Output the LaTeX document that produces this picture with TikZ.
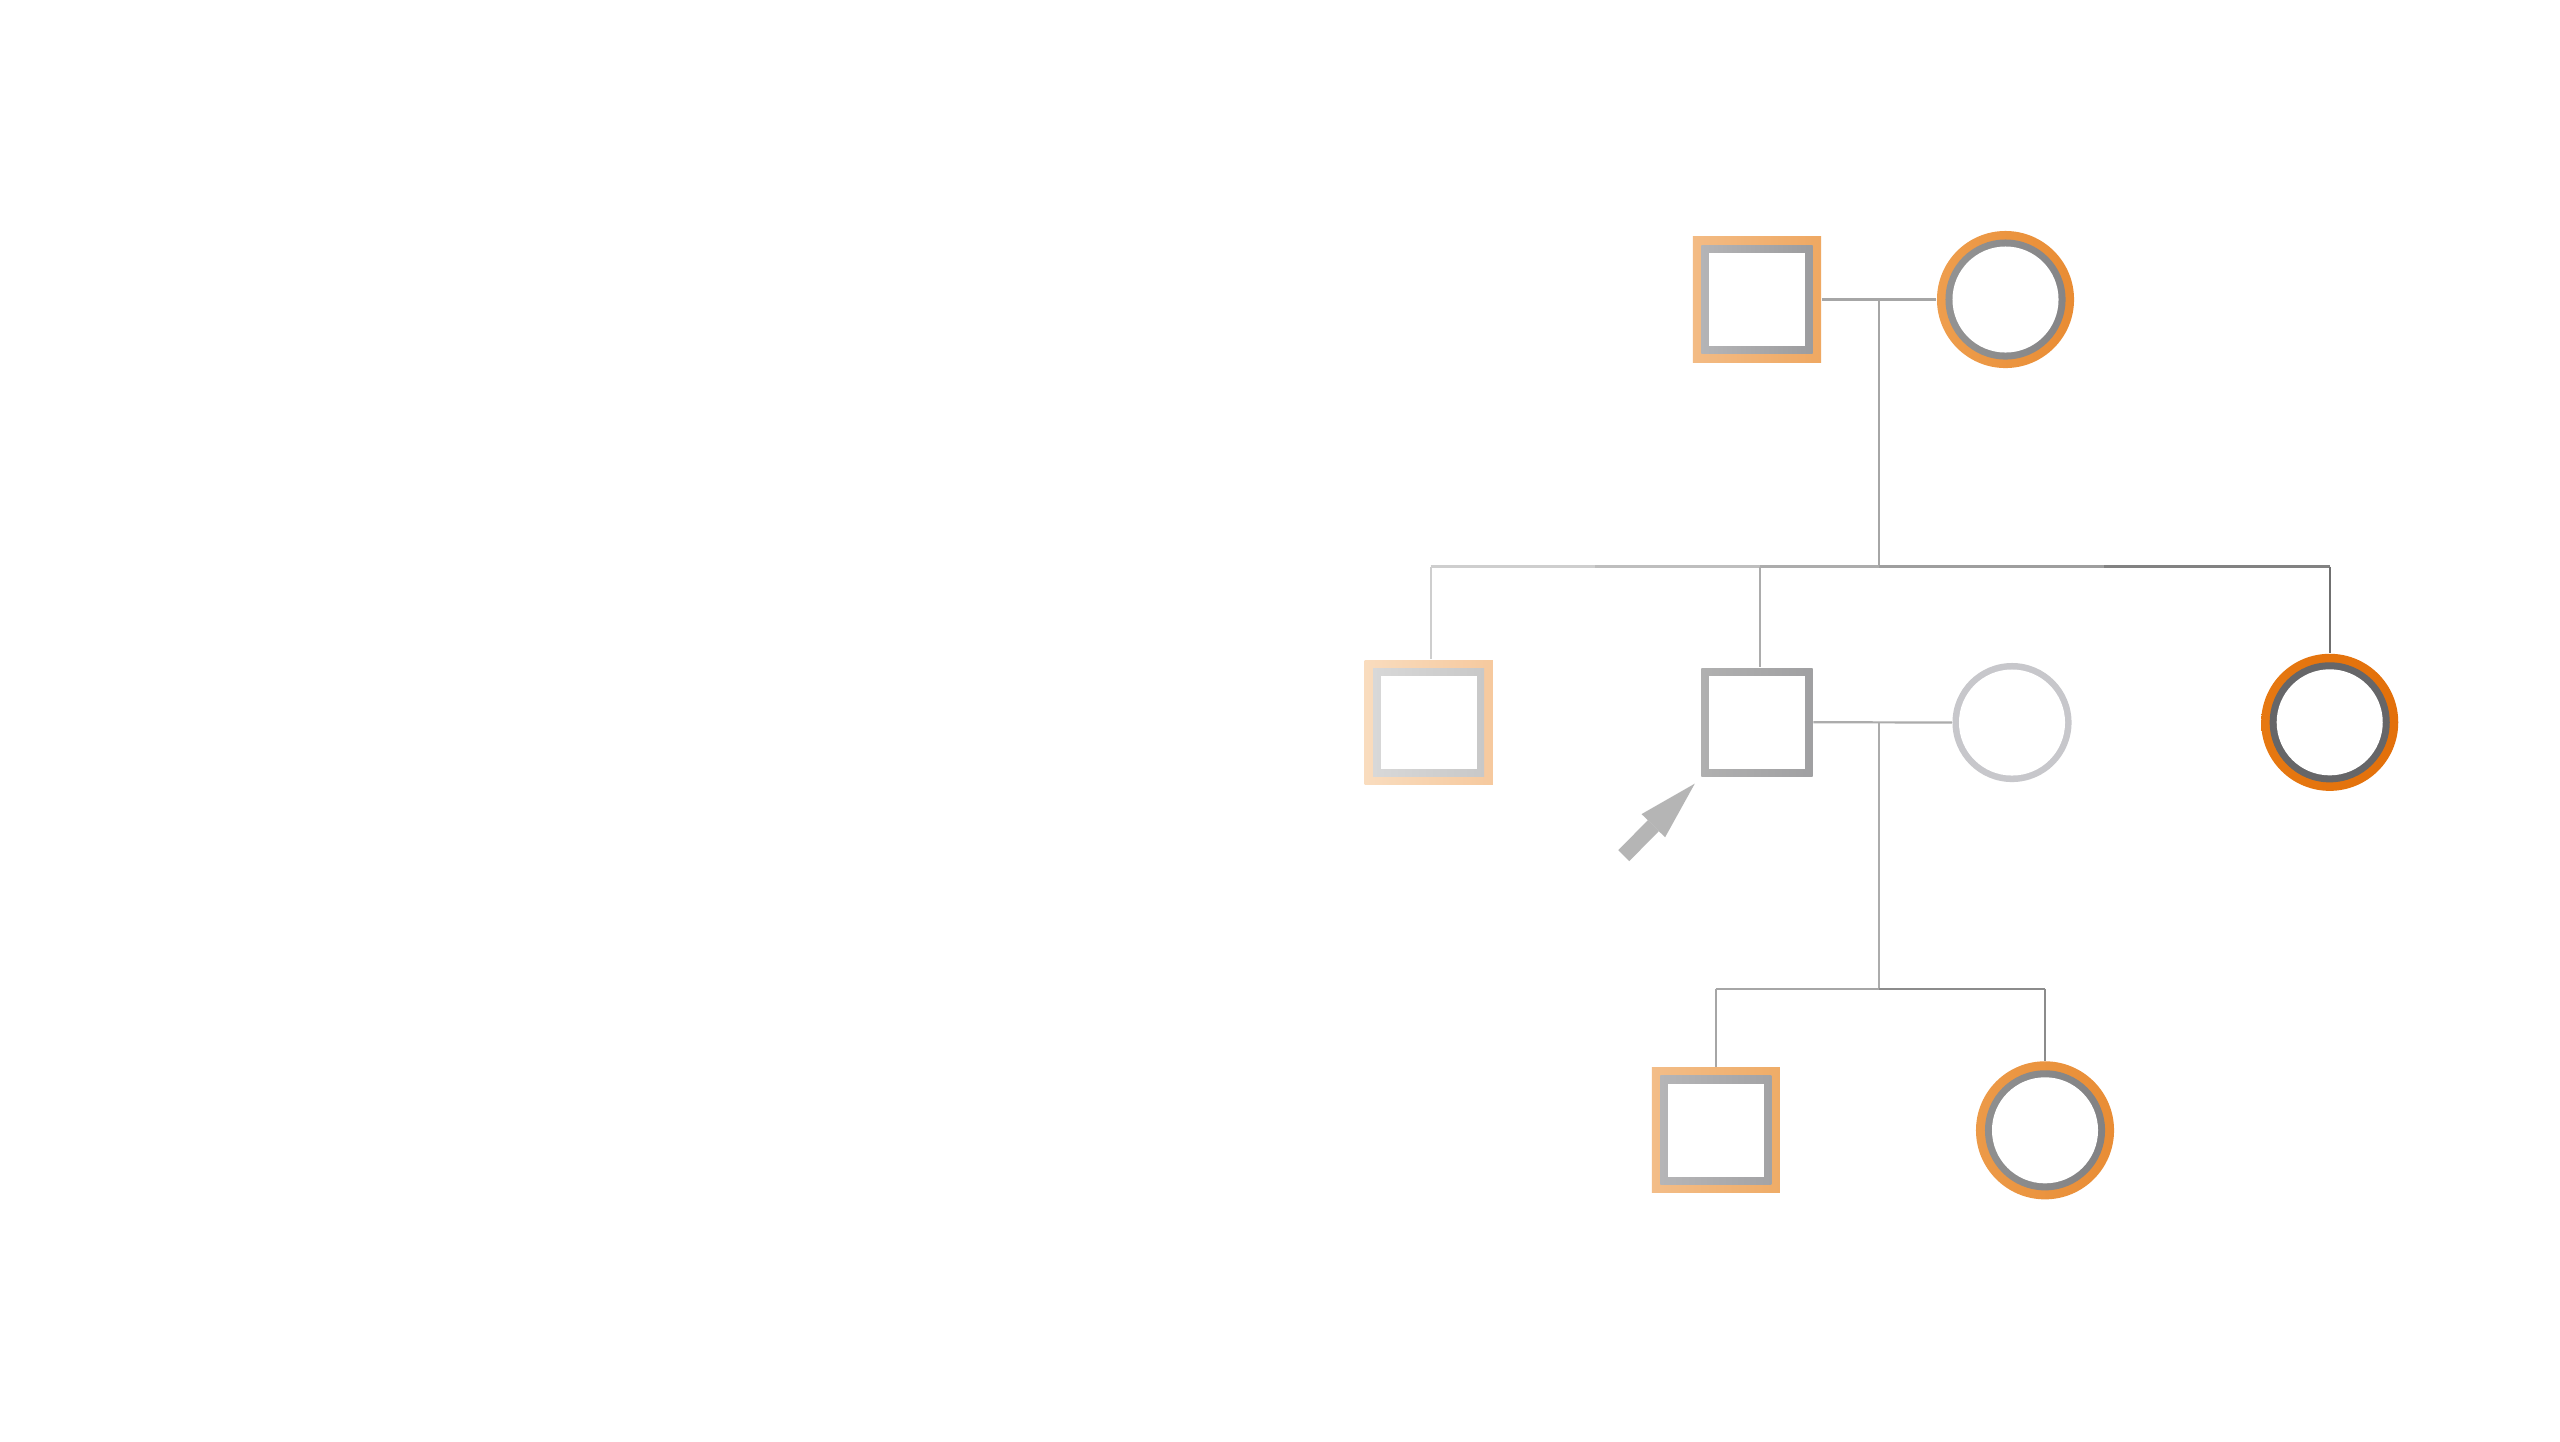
\documentclass[tikz,border=0pt]{standalone}
\usetikzlibrary{arrows.meta,calc}
\definecolor{oGFa}{HTML}{F3BB84}\definecolor{oGFb}{HTML}{EFA862}
\definecolor{gGFa}{HTML}{B4B4B6}\definecolor{gGFb}{HTML}{9C9C9E}
\definecolor{oGMa}{HTML}{EE9E4E}\definecolor{oGMb}{HTML}{E98C33}
\definecolor{gGMa}{HTML}{939393}\definecolor{gGMb}{HTML}{858587}
\definecolor{oUNa}{HTML}{F9DCBE}\definecolor{oUNb}{HTML}{F6C99E}
\definecolor{gUNa}{HTML}{D8D8D8}\definecolor{gUNb}{HTML}{C8C8C8}
\definecolor{gPBa}{HTML}{B0B0B0}\definecolor{gPBb}{HTML}{A0A0A2}
\definecolor{gMO}{HTML}{C7C7CB}
\definecolor{oAUa}{HTML}{E67811}\definecolor{oAUb}{HTML}{E3700A}
\definecolor{gAU}{HTML}{666668}
\definecolor{oSOa}{HTML}{F3BD88}\definecolor{oSOb}{HTML}{EFAC67}
\definecolor{gSOa}{HTML}{B5B5B7}\definecolor{gSOb}{HTML}{A3A3A5}
\definecolor{oDAa}{HTML}{EC9A48}\definecolor{oDAb}{HTML}{E98D35}
\definecolor{gDAa}{HTML}{8F8F8F}\definecolor{gDAb}{HTML}{828284}
\definecolor{arrowgray}{HTML}{B5B5B5}
\definecolor{lA}{HTML}{CECECE}\definecolor{lB}{HTML}{BEBEBE}
\definecolor{lC}{HTML}{ACACAC}\definecolor{lD}{HTML}{9E9E9E}
\definecolor{lE}{HTML}{828282}\definecolor{lF}{HTML}{707070}
\definecolor{lG}{HTML}{A6A6A6}\definecolor{lH}{HTML}{8C8C8C}
\tikzset{
  sqo/.style={rectangle, inner sep=0pt, minimum width=1.28cm, minimum height=1.25cm},
  sqg/.style={rectangle, inner sep=0pt, minimum width=1.11cm, minimum height=1.08cm},
  sqw/.style={rectangle, inner sep=0pt, minimum width=0.96cm, minimum height=0.93cm, fill=white},
  cio/.style={circle, inner sep=0pt, minimum size=1.37cm},
  cig/.style={circle, inner sep=0pt, minimum size=1.20cm},
  ciw/.style={circle, inner sep=0pt, minimum size=1.06cm, fill=white},
  link/.style={line width=0.022cm},
  pointer/.style={line width=0.155cm, arrowgray,
    -{Triangle[width=0.33cm,length=0.59cm,line width=0pt]}}
}
\begin{document}
\begin{tikzpicture}[x=0.01cm,y=-0.01cm]
\fill[white] (0,0) rectangle (2560,1441);
\useasboundingbox (0,0) rectangle (2560,1441);

% generation I
\node[sqo, left color=oGFa, right color=oGFb] (gf) at (1757,299.5) {};
\node[sqg, left color=gGFa, right color=gGFb] at (gf) {};
\node[sqw] at (gf) {};
\node[cio, left color=oGMa, right color=oGMb] (gm) at (2005.5,299.5) {};
\node[cig, left color=gGMa, right color=gGMb] at (gm) {};
\node[ciw] at (gm) {};

% generation II
\node[sqo, minimum height=1.24cm, left color=oUNa, right color=oUNb] (un) at (1428.7,722.2) {};
\node[sqg, left color=gUNa, right color=gUNb] at (un) {};
\node[sqw] at (un) {};
\node[sqg, left color=gPBa, right color=gPBb] (pb) at (1757,722.2) {};
\node[sqw] at (pb) {};
\node[circle, inner sep=0pt, minimum size=1.19cm, fill=gMO] (mo) at (2012,722.5) {};
\node[ciw] at (mo) {};
\node[cio, left color=oAUa, right color=oAUb] (au) at (2329.7,722.3) {};
\node[cig, fill=gAU] at (au) {};
\node[ciw] at (au) {};

% generation III
\node[sqo, left color=oSOa, right color=oSOb] (so) at (1715.8,1130) {};
\node[sqg, left color=gSOa, right color=gSOb] at (so) {};
\node[sqw] at (so) {};
\node[cio, minimum size=1.38cm, left color=oDAa, right color=oDAb] (da) at (2045,1130.3) {};
\node[cig, left color=gDAa, right color=gDAb] at (da) {};
\node[ciw] at (da) {};

% connector points
\coordinate (m1) at ($(gf.east)!0.5!(gm.west)$);
\coordinate (s2) at ($(m1)+(0,267)$);
\coordinate (m2) at (m1 |- pb.east);
\coordinate (s3) at ($(m2)+(0,267)$);
\coordinate (unTop) at ([xshift=0.02cm]un.north);
\coordinate (pbTop) at ([xshift=0.03cm]pb.north);
\coordinate (c2a) at (unTop |- s2);
\coordinate (c2b) at (pbTop |- s2);
\coordinate (c2c) at (au.north |- s2);
\coordinate (c3a) at (so.north |- s3);
\coordinate (c3b) at (da.north |- s3);

% generation I couple and descent
\draw[link, lG] (gf.east) -- (gm.west);
\draw[link, lG] (m1) -- (s2);
% sibship line II (light on the left, dark on the right)
\draw[link, lA] (c2a) -- ($(c2a)!0.5!(c2b)$);
\draw[link, lB] ($(c2a)!0.5!(c2b)$) -- (c2b);
\draw[link, lC] (c2b) -- (s2);
\draw[link, lD] (s2) -- ($(s2)!0.5!(c2c)$);
\draw[link, lE] ($(s2)!0.5!(c2c)$) -- (c2c);
\draw[link, lA] (c2a) -- (unTop);
\draw[link, lC] (c2b) -- (pbTop);
\draw[link, lF] (c2c) -- (au.north);
% generation II couple and descent
\draw[link, lC] (pb.east) -- (mo.west);
\draw[link, lC] (m2) -- (s3);
\draw[link, lG] (c3a) -- (s3);
\draw[link, lH] (s3) -- (c3b);
\draw[link, lG] (c3a) -- (so.north);
\draw[link, lH] (c3b) -- (da.north);

% proband pointer
\coordinate (ptip) at ($(pb.south west)+(-6,6.7)$);
\coordinate (ptail) at ($(ptip)+(-71,72)$);
\draw[pointer] (ptail) -- (ptip);
\end{tikzpicture}
\end{document}
